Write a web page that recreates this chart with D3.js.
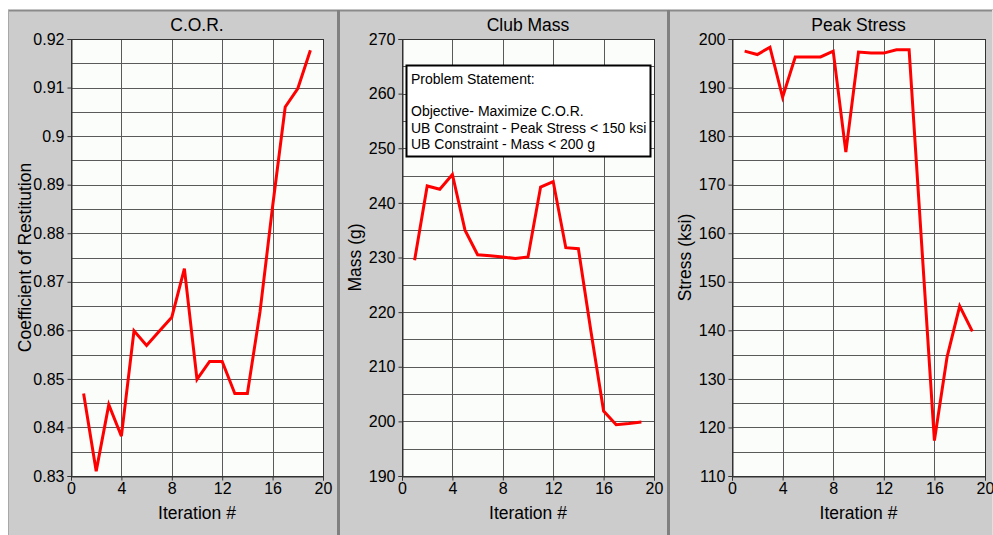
<!DOCTYPE html>
<html>
<head>
<meta charset="utf-8">
<script src="https://cdn.jsdelivr.net/npm/d3@7"></script>
<style>
html,body{margin:0;padding:0;background:#ffffff;}
svg{display:block;font-family:"Liberation Sans",Arial,sans-serif;}
</style>
</head>
<body>
<svg id="chart" width="993" height="535"></svg>
<script>
// ---------- DATA ----------
const iterations = [1,2,3,4,5,6,7,8,9,10,11,12,13,14,15,16,17,18,19];
const corValues = [0.847,0.831,0.8447,0.8382,0.8599,0.8569,0.8598,0.8627,0.8727,0.8499,0.8536,0.8536,0.847,0.847,0.8638,0.8855,0.906,0.9098,0.9177];
const massValues = [229.5,243.1,242.5,245.2,235.0,230.5,230.3,230.1,229.8,230.1,242.9,243.9,231.8,231.6,216.4,201.9,199.4,199.6,199.9];
const stressValues = [197.5,196.8,198.3,188.0,196.3,196.3,196.3,197.5,176.7,197.3,197.1,197.1,197.8,197.8,157.5,117.3,134.5,145.0,139.8];
const xTicks = [0,4,8,12,16,20];
const corTicks = [0.83,0.84,0.85,0.86,0.87,0.88,0.89,0.9,0.91,0.92];
const massTicks = [190,200,210,220,230,240,250,260,270];
const stressTicks = [110,120,130,140,150,160,170,180,190,200];
const titles = ["C.O.R.","Club Mass","Peak Stress"];
const yTitles = ["Coefficient of Restitution","Mass (g)","Stress (ksi)"];
const xTitle = "Iteration #";
const noteLines = ["Problem Statement:","","Objective- Maximize C.O.R.","UB Constraint - Peak Stress < 150 ksi","UB Constraint - Mass < 200 g"];

// ---------- LAYOUT ----------
const svg = d3.select("#chart");
const W = 993, H = 535;
const bg = "#cccccc";
const plotTop = 39, plotBottom = 476;

svg.append("rect").attr("x",8).attr("y",10).attr("width",W-8).attr("height",H-10).attr("fill",bg);
svg.append("line").attr("x1",8).attr("x2",W).attr("y1",10.5).attr("y2",10.5).attr("stroke","#8a8a8a").attr("stroke-width",2);
svg.append("line").attr("x1",8.5).attr("x2",8.5).attr("y1",10).attr("y2",H).attr("stroke","#a8a8a8").attr("stroke-width",1);
svg.append("line").attr("x1",992.5).attr("x2",992.5).attr("y1",10).attr("y2",H).attr("stroke","#e0e0e0").attr("stroke-width",1);
[338.5,668.5].forEach(x=>{
  svg.append("rect").attr("x",x-1.5).attr("y",10).attr("width",3).attr("height",H-10).attr("fill","#808080");
});

const panels = [
  {left:71, right:323, values:corValues, ticks:corTicks, fmt:d=>String(+d.toFixed(2)), yTitleX:25},
  {left:402, right:654, values:massValues, ticks:massTicks, fmt:d=>String(d), yTitleX:355},
  {left:732, right:985, values:stressValues, ticks:stressTicks, fmt:d=>String(d), yTitleX:685}
];

panels.forEach((p,i)=>{
  const g = svg.append("g");
  const x = d3.scaleLinear().domain([xTicks[0], xTicks[xTicks.length-1]]).range([p.left,p.right]);
  const y = d3.scaleLinear().domain([p.ticks[0], p.ticks[p.ticks.length-1]]).range([plotBottom,plotTop]);

  g.append("rect").attr("x",p.left).attr("y",plotTop).attr("width",p.right-p.left).attr("height",plotBottom-plotTop)
    .attr("fill","#fbfdfb");

  const minor = d3.pairs(p.ticks).map(([a,b])=>(a+b)/2);
  const hGrid = p.ticks.concat(minor);
  g.selectAll(".hg").data(hGrid).enter().append("line")
    .attr("x1",p.left).attr("x2",p.right)
    .attr("y1",d=>Math.round(y(d))+0.5).attr("y2",d=>Math.round(y(d))+0.5)
    .attr("stroke","#5a5a5a").attr("stroke-width",1);
  g.selectAll(".vg").data(xTicks).enter().append("line")
    .attr("x1",d=>Math.round(x(d))+0.5).attr("x2",d=>Math.round(x(d))+0.5)
    .attr("y1",plotTop).attr("y2",plotBottom)
    .attr("stroke","#5a5a5a").attr("stroke-width",1);
  g.append("rect").attr("x",p.left+0.5).attr("y",plotTop+0.5).attr("width",p.right-p.left).attr("height",plotBottom-plotTop)
    .attr("fill","none").attr("stroke","#333").attr("stroke-width",1);

  const yAxis = d3.axisLeft(y).tickValues(p.ticks).tickFormat(p.fmt).tickSize(4).tickPadding(3);
  const ya = g.append("g").attr("transform",`translate(${p.left+0.5},0)`).call(yAxis);
  const xAxis = d3.axisBottom(x).tickValues(xTicks).tickFormat(d=>String(d)).tickSize(4).tickPadding(2);
  const xa = g.append("g").attr("transform",`translate(0,${plotBottom+0.5})`).call(xAxis);
  [ya,xa].forEach(a=>{
    a.select(".domain").attr("stroke","#333");
    a.selectAll(".tick line").attr("stroke","#333");
    a.selectAll(".tick text").attr("fill","#000").style("font-size","16px").style("font-family","'Liberation Sans',Arial,sans-serif");
  });

  const line = d3.line().x((d,k)=>x(iterations[k])).y(d=>y(d));
  g.append("path").datum(p.values).attr("d",line).attr("fill","none")
    .attr("stroke","#ff0000").attr("stroke-width",3).attr("stroke-linejoin","miter");

  g.append("text").attr("x",(p.left+p.right)/2).attr("y",30.5).attr("text-anchor","middle")
    .style("font-size","17.5px").attr("fill","#000").text(titles[i]);
  g.append("text").attr("x",(p.left+p.right)/2).attr("y",518.5).attr("text-anchor","middle")
    .style("font-size","17.5px").attr("fill","#000").text(xTitle);
  g.append("text").attr("transform",`translate(${p.yTitleX},${(plotTop+plotBottom)/2}) rotate(-90)`)
    .attr("text-anchor","middle").attr("dy","0.35em")
    .style("font-size","17.5px").attr("fill","#000").text(yTitles[i]);

  if(i===1){
    const bx=406.5, by=65.5, bw=244, bh=91;
    g.append("rect").attr("x",bx).attr("y",by).attr("width",bw).attr("height",bh)
      .attr("fill","#ffffff").attr("stroke","#000").attr("stroke-width",2);
    const t = g.append("text").style("font-size","14px").attr("fill","#000");
    noteLines.forEach((s,k)=>{
      t.append("tspan").attr("x",411).attr("y",84+k*16.2).text(s);
    });
  }
});
</script>
</body>
</html>
